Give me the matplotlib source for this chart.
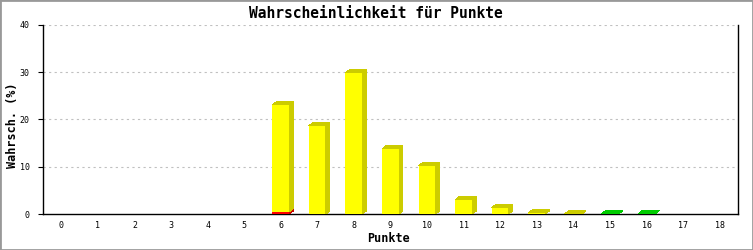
import numpy as np
import matplotlib
matplotlib.use("Agg")
import matplotlib.pyplot as plt
from matplotlib.patches import Polygon, Rectangle

# data (percent per point total)
punkte = list(range(19))
red_vals = [0, 0, 0, 0, 0, 0, 0.5, 0, 0, 0, 0, 0, 0, 0, 0, 0, 0, 0, 0]
yellow_vals = [0, 0, 0, 0, 0, 0, 22.6, 18.7, 29.9, 13.8, 10.2, 3.0, 1.35, 0.25, 0.05, 0, 0, 0, 0]
green_vals = [0, 0, 0, 0, 0, 0, 0, 0, 0, 0, 0, 0, 0, 0, 0, 0.05, 0.05, 0, 0]

series = [
    (red_vals, "#ff0000", "#cc0000"),
    (yellow_vals, "#ffff00", "#cccc00"),
    (green_vals, "#00ee00", "#00cc00"),
]

W, H = 753, 250
fig = plt.figure(figsize=(W / 100, H / 100), dpi=100)
ax = fig.add_axes([43 / W, (H - 214) / H, (738 - 43) / W, (214 - 25) / H])
ax.set_xlim(-0.5, 18.5)
ax.set_ylim(0, 40)

# 3d depth in data units (about 4px right, 3px up)
px_x = (738 - 43) / 19.0
px_y = (214 - 25) / 40.0
dx = 4 / px_x
dy = 3 / px_y
bw = 17 / px_x

bottoms = np.zeros(len(punkte))
for vals, front, side in series:
    for i, v in enumerate(vals):
        if v <= 0:
            continue
        x0 = punkte[i] - bw / 2
        x1 = punkte[i] + bw / 2
        b = bottoms[i]
        t = b + v
        ax.add_patch(Rectangle((x0, b), bw, v, facecolor=front, edgecolor="none",
                               antialiased=False, zorder=3))
        ax.add_patch(Polygon([(x1, b), (x1 + dx, b + dy), (x1 + dx, t + dy), (x1, t)],
                             closed=True, facecolor=side, edgecolor="none",
                             antialiased=False, zorder=3))
        ax.add_patch(Polygon([(x0, t), (x0 + dx, t + dy), (x1 + dx, t + dy), (x1, t)],
                             closed=True, facecolor=side, edgecolor="none",
                             antialiased=False, zorder=3))
    bottoms += np.array(vals)

mono = "DejaVu Sans Mono"

ax.set_yticks([0, 10, 20, 30, 40])
ax.set_yticklabels(["0", "10", "20", "30", "40"], fontsize=6, family=mono)
ax.set_xticks(punkte)
ax.set_xticklabels([str(p) for p in punkte], fontsize=6, family=mono)
ax.tick_params(axis="y", direction="out", length=3.6, width=0.8, pad=6)
ax.tick_params(axis="x", length=0, pad=5)

for y in [10, 20, 30, 40]:
    ax.axhline(y, color="#c0c0c0", linewidth=0.8, linestyle=(0, (2, 3)), zorder=1)

ax.spines["top"].set_visible(False)
for s in ["left", "bottom", "right"]:
    ax.spines[s].set_linewidth(1.0)
    ax.spines[s].set_color("black")
    ax.spines[s].set_zorder(2.5)

ax.set_xlabel("Punkte", fontsize=8.5, family=mono, fontweight="bold")
ax.xaxis.set_label_coords(388 / W, 1 - 239 / H, transform=fig.transFigure)
ax.xaxis.label.set_va("center")
ax.set_ylabel("Wahrsch. (%)", fontsize=8.5, family=mono, fontweight="bold")
ax.yaxis.set_label_coords(13 / W, 0.5, transform=fig.transFigure)
ax.yaxis.label.set_va("center")
fig.text(376 / W, 1 - 14 / H, "Wahrscheinlichkeit für Punkte", ha="center", va="center",
         fontsize=10.5, family=mono, fontweight="bold")

# grey frame around the whole image
fig.add_artist(Rectangle((0, 0), 1, 1, transform=fig.transFigure, fill=False,
                         edgecolor="#999999", linewidth=2))

fig.savefig("out.png", dpi=100)
